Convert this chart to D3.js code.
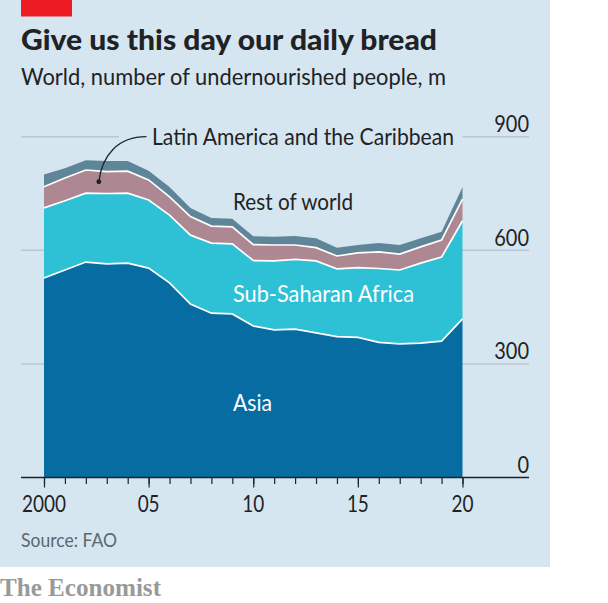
<!DOCTYPE html>
<html>
<head>
<meta charset="utf-8">
<script src="https://cdn.jsdelivr.net/npm/d3@7"></script>
<style>
html, body { margin: 0; padding: 0; background: #fff; }
svg { display: block; font-family: Lato, sans-serif; }
</style>
</head>
<body>
<div id="chart"></div>
<script>
// data, millions of people
var years = d3.range(2000, 2021);
var asia = [527, 548, 569, 564, 566, 553, 514, 458, 434, 432, 400, 390, 392, 382, 372, 370, 357, 353, 355, 360, 419];
var subSaharanAfrica = [185, 183, 182, 186, 185, 180, 179, 182, 185, 185, 173, 182, 184, 190, 179, 184, 195, 195, 211, 222, 259];
var latinAmerica = [56, 60, 61, 58, 58, 53, 48, 49, 45, 45, 42, 42, 38, 35, 34, 39, 44, 42, 43, 45, 57];
var restOfWorld = [32, 26, 26, 28, 27, 24, 26, 23, 21, 21, 22, 22, 24, 25, 22, 21, 23, 24, 23, 22, 32];
var seriesKeys = ['asia', 'ssa', 'latam', 'rest'];
var seriesColours = ['#076ca1', '#2ec1d5', '#ad8792', '#5f8698'];
var yTicks = [0, 300, 600, 900];
var xLabelled = [2000, 2005, 2010, 2015, 2020];

var width = 608, height = 603;
var svg = d3.select('#chart').append('svg').attr('width', width).attr('height', height);

var x = d3.scaleLinear().domain([2000, 2020]).range([44, 462.5]);
var y = d3.scaleLinear().domain([0, 900]).range([477.5, 136.7]);
var ink = '#1f2326';

// fits a label to its measured width, the original face is narrower than Lato
function label(str, left, base, size, len, opts) {
    opts = opts || {};
    return svg.append('text')
        .attr('x', left)
        .attr('y', base)
        .attr('font-size', size)
        .attr('font-weight', opts.weight || 400)
        .attr('font-family', opts.family || null)
        .attr('fill', opts.fill || ink)
        .attr('textLength', len)
        .attr('lengthAdjust', 'spacingAndGlyphs')
        .text(str);
}

// panel
svg.append('rect').attr('width', 550).attr('height', 567).attr('fill', '#d6e6f0');
svg.append('rect').attr('x', 21).attr('width', 51).attr('height', 16.5).attr('fill', '#ed1c24');

label('Give us this day our daily bread', 21, 50, 29, 416, {weight: 900});
label('World, number of undernourished people, m', 21, 85, 24, 425);

// gridlines
svg.append('g').selectAll('line')
    .data(yTicks.filter(function (d) { return d > 0; }))
    .enter().append('line')
    .attr('x1', 21).attr('x2', 529)
    .attr('y1', function (d) { return y(d); })
    .attr('y2', function (d) { return y(d); })
    .attr('stroke', '#b8c7d1')
    .attr('stroke-width', 1.5);

// clear the 900 line behind the long label
svg.append('rect')
    .attr('x', 119).attr('width', x(2020) - 119)
    .attr('y', y(900) - 2).attr('height', 4)
    .attr('fill', '#d6e6f0');

// stacked areas
var table = years.map(function (yr, i) {
    return {year: yr, asia: asia[i], ssa: subSaharanAfrica[i], latam: latinAmerica[i], rest: restOfWorld[i]};
});
var stacked = d3.stack().keys(seriesKeys)(table);

var area = d3.area()
    .x(function (d) { return x(d.data.year); })
    .y0(function (d) { return y(d[0]); })
    .y1(function (d) { return y(d[1]); });
var topLine = d3.line()
    .x(function (d) { return x(d.data.year); })
    .y(function (d) { return y(d[1]); });

svg.append('g').selectAll('path')
    .data(stacked)
    .enter().append('path')
    .attr('d', area)
    .attr('fill', function (d, i) { return seriesColours[i]; });

svg.append('g').selectAll('path')
    .data(stacked.slice(0, 3))
    .enter().append('path')
    .attr('d', topLine)
    .attr('fill', 'none')
    .attr('stroke', '#fff')
    .attr('stroke-width', 1.7);

// x axis
var axisMajor = d3.axisBottom(x).tickValues(xLabelled).tickSize(10).tickFormat('');
var axisMinor = d3.axisBottom(x).tickValues(years).tickSize(6.5).tickFormat('');

var gMinor = svg.append('g').attr('transform', 'translate(0,' + y(0) + ')').call(axisMinor);
gMinor.select('.domain').remove();
gMinor.selectAll('line').attr('stroke', ink).attr('stroke-width', 1.2);

var gMajor = svg.append('g').attr('transform', 'translate(0,' + y(0) + ')').call(axisMajor);
gMajor.select('.domain').remove();
gMajor.selectAll('line').attr('stroke', ink).attr('stroke-width', 1.2);
gMajor.selectAll('text').remove();

xLabelled.forEach(function (d) {
    var str = d === 2000 ? '2000' : d3.format('02d')(d % 100);
    var w = str.length * 11;
    label(str, x(d) - w / 2, 511.7, 24, w);
});

svg.append('line')
    .attr('x1', 21).attr('x2', 529)
    .attr('y1', y(0)).attr('y2', y(0))
    .attr('stroke', ink).attr('stroke-width', 1.6);

// y labels
yTicks.forEach(function (d) {
    var str = String(d);
    var w = str.length * 11.6;
    label(str, 529 - w, y(d) - 4.6, 24, w);
});

// series labels
label('Latin America and the Caribbean', 152, 145, 24, 302);
label('Rest of world', 233, 210, 24, 120);
label('Sub-Saharan Africa', 233, 302, 24, 181, {fill: '#fff'});
label('Asia', 233, 411, 24, 39, {fill: '#fff'});

// leader for Latin America, anchored inside its band
var dotYear = 2002.62, dotValue = 781;
var leader = d3.path();
leader.moveTo(146.5, y(900));
leader.bezierCurveTo(118, y(900), 102, 155, x(dotYear), y(dotValue));
svg.append('path').attr('d', leader.toString()).attr('fill', 'none').attr('stroke', ink).attr('stroke-width', 1.3);
svg.append('circle').attr('cx', x(dotYear)).attr('cy', y(dotValue)).attr('r', 2.4).attr('fill', ink);

// footer
label('Source: FAO', 21, 546.7, 19.5, 96, {fill: '#5c6870'});
label('The Economist', 0, 595.7, 25, 161, {weight: 700, family: '"Liberation Serif", serif', fill: '#999'});
</script>
</body>
</html>
